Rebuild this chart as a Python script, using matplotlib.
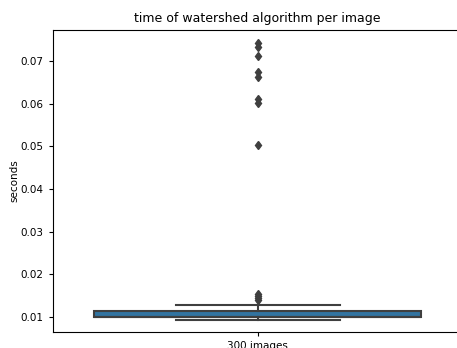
import matplotlib
matplotlib.use("Agg")
import matplotlib.pyplot as plt

category = "300 images"
q1 = 0.0100
q3 = 0.0115
median = 0.0101
whisker_low = 0.0094
whisker_high = 0.0128
outliers = [0.0140, 0.0145, 0.0150, 0.0155, 0.0503, 0.0601, 0.0610,
            0.0663, 0.0675, 0.0712, 0.0733, 0.0742]

fig = plt.figure(figsize=(4.57, 3.48), dpi=100)
ax = fig.add_axes([0.115, 0.046, 0.897, 0.868])

stats = [dict(med=median, q1=q1, q3=q3, whislo=whisker_low, whishi=whisker_high,
              fliers=outliers, label=category)]
lc = "#3f3f3f"
ax.bxp(stats, positions=[0], widths=0.8, patch_artist=True,
       boxprops=dict(facecolor="#3274a1", edgecolor=lc, linewidth=1.5),
       medianprops=dict(color=lc, linewidth=1.5),
       whiskerprops=dict(color=lc, linewidth=1.5),
       capprops=dict(color=lc, linewidth=1.5),
       flierprops=dict(marker="d", markerfacecolor=lc, markeredgecolor=lc, markersize=4.5))
ax.set_xlim(-0.5, 0.5)
ax.set_ylim(0.00649, 0.0773)
ax.set_yticks([0.01, 0.02, 0.03, 0.04, 0.05, 0.06, 0.07])
ax.tick_params(labelsize=7.5, length=3)
ax.set_ylabel("seconds", fontsize=7.5, labelpad=1)
ax.set_title("time of watershed algorithm per image", fontsize=9)
fig.savefig("out.png", dpi=100)
